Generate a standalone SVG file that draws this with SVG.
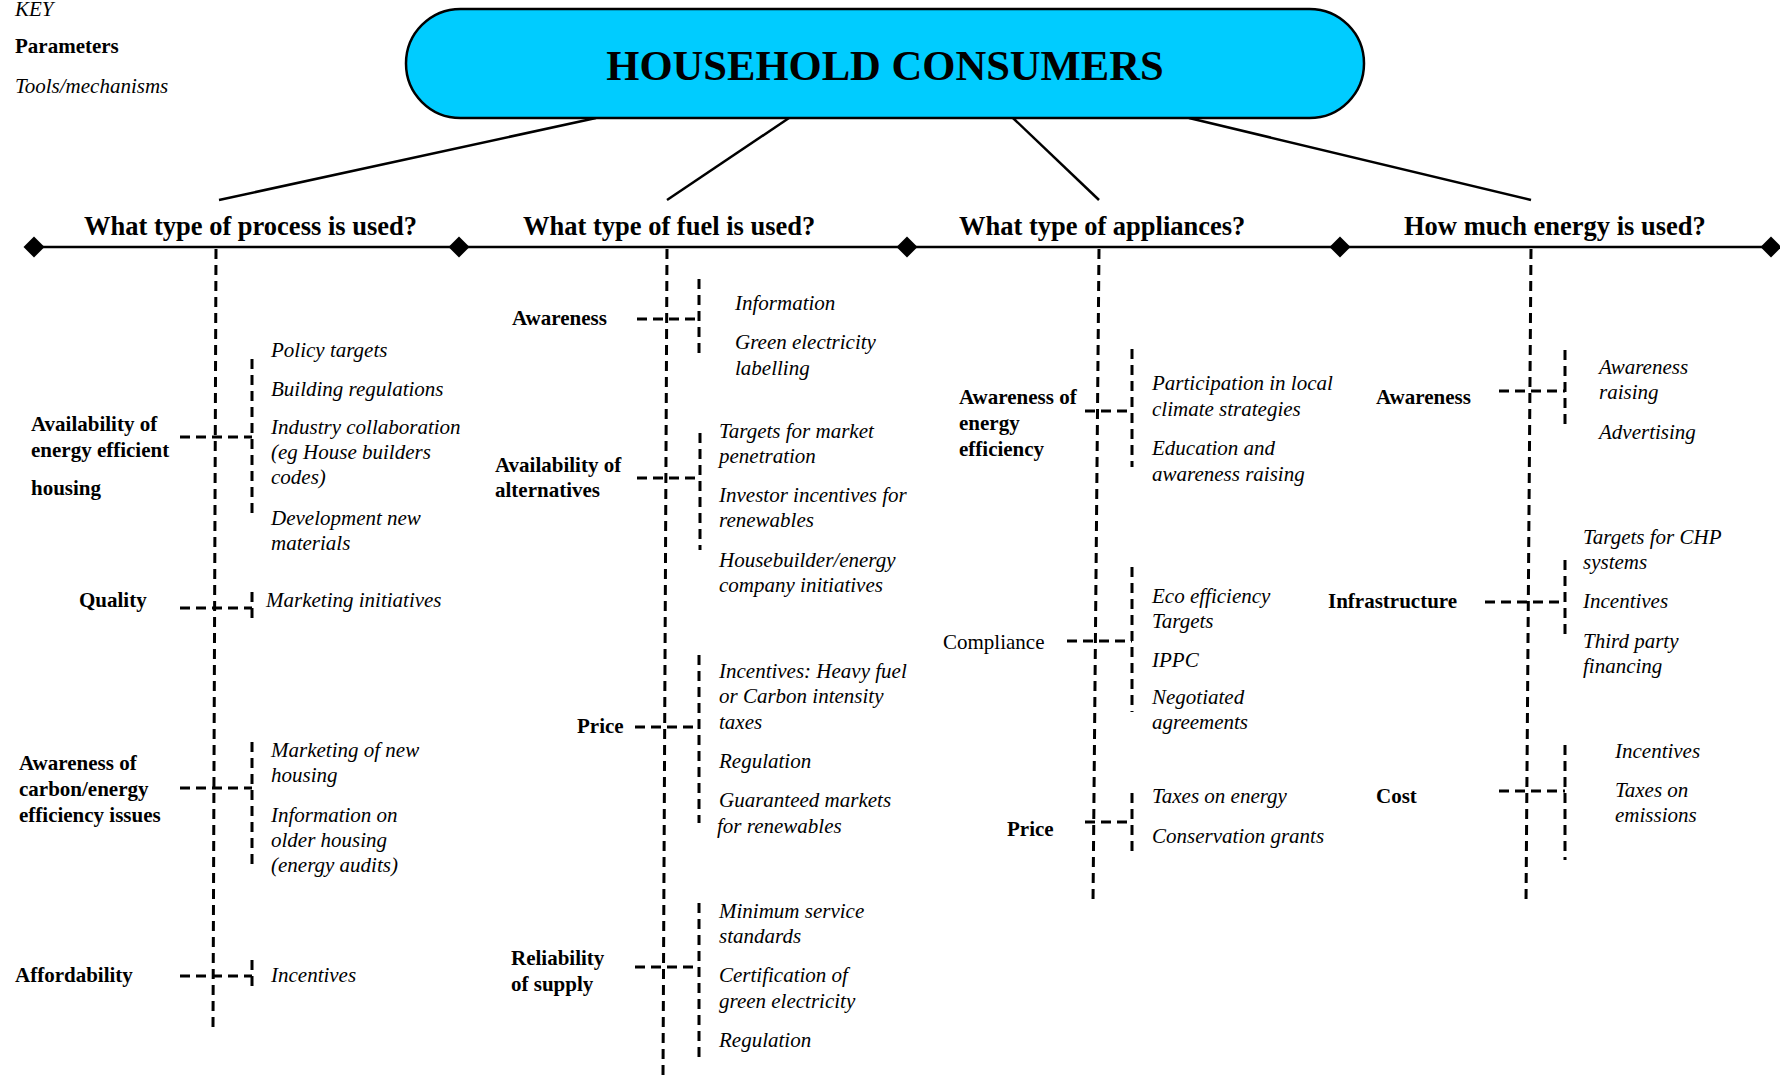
<svg xmlns="http://www.w3.org/2000/svg" width="1780" height="1076" viewBox="0 0 1780 1076">
  <defs>
    <style>
      text { font-family: "Liberation Serif", "Times New Roman", serif; fill: #000; }
      .key { font-size: 21px; font-style: italic; }
      .keyb { font-size: 21px; font-weight: bold; }
      .title { font-size: 42.6px; font-weight: bold; }
      .head { font-size: 26.5px; font-weight: bold; }
      .param { font-size: 21px; font-weight: bold; }
      .plain { font-size: 21px; }
      .tool { font-size: 21px; font-style: italic; }
      .solid { stroke: #000; stroke-width: 2.5; fill: none; }
      .dash { stroke: #000; stroke-width: 3; fill: none; stroke-dasharray: 10 6; }
    </style>
    <path id="diamond" d="M0,-10.5 L10.5,0 L0,10.5 L-10.5,0 Z" fill="#000"/>
  </defs>

  <rect width="1780" height="1076" fill="#fff"/>

  <!-- key -->
  <g id="key">
    <text class="key" x="15" y="16">KEY</text>
    <text class="keyb" x="15" y="53">Parameters</text>
    <text class="key" x="15" y="93">Tools/mechanisms</text>
  </g>

  <!-- connectors -->
  <g id="connectors">
    <!-- title to questions -->
    <line class="solid" x1="596" y1="118" x2="219" y2="200"/>
    <line class="solid" x1="789" y1="118" x2="667" y2="200"/>
    <line class="solid" x1="1013" y1="118" x2="1099" y2="200"/>
    <line class="solid" x1="1189" y1="118" x2="1531" y2="200"/>

    <!-- question bar -->
    <line class="solid" x1="34" y1="247" x2="1771" y2="247"/>
    <use href="#diamond" x="34" y="247"/>
    <use href="#diamond" x="459" y="247"/>
    <use href="#diamond" x="907" y="247"/>
    <use href="#diamond" x="1340" y="247"/>
    <use href="#diamond" x="1771" y="247"/>

    <!-- column spines -->
    <line class="dash" x1="216" y1="249" x2="213" y2="1028"/>
    <line class="dash" x1="667" y1="249" x2="663" y2="1076"/>
    <line class="dash" x1="1099" y1="249" x2="1093" y2="903"/>
    <line class="dash" x1="1531" y1="249" x2="1526" y2="903"/>

    <!-- process column -->
    <line class="dash" x1="180" y1="437" x2="252" y2="437"/>
    <line class="dash" x1="252" y1="359" x2="252" y2="513"/>
    <line class="dash" x1="180" y1="608" x2="252" y2="608"/>
    <line class="dash" x1="252" y1="592" x2="252" y2="620"/>
    <line class="dash" x1="180" y1="788" x2="252" y2="788"/>
    <line class="dash" x1="252" y1="742" x2="252" y2="870"/>
    <line class="dash" x1="180" y1="976" x2="252" y2="976"/>
    <line class="dash" x1="252" y1="960" x2="252" y2="988"/>

    <!-- fuel column -->
    <line class="dash" x1="637" y1="319" x2="699" y2="319"/>
    <line class="dash" x1="699" y1="279" x2="699" y2="359"/>
    <line class="dash" x1="637" y1="478" x2="700" y2="478"/>
    <line class="dash" x1="700" y1="433" x2="700" y2="550"/>
    <line class="dash" x1="635" y1="727" x2="699" y2="727"/>
    <line class="dash" x1="699" y1="655" x2="699" y2="823"/>
    <line class="dash" x1="635" y1="967" x2="699" y2="967"/>
    <line class="dash" x1="699" y1="903" x2="699" y2="1057"/>

    <!-- appliance column -->
    <line class="dash" x1="1085" y1="411" x2="1132" y2="411"/>
    <line class="dash" x1="1132" y1="349" x2="1132" y2="467"/>
    <line class="dash" x1="1067" y1="641" x2="1132" y2="641"/>
    <line class="dash" x1="1132" y1="567" x2="1132" y2="712"/>
    <line class="dash" x1="1085" y1="822" x2="1132" y2="822"/>
    <line class="dash" x1="1132" y1="793" x2="1132" y2="855"/>

    <!-- energy column -->
    <line class="dash" x1="1499" y1="391" x2="1565" y2="391"/>
    <line class="dash" x1="1565" y1="350" x2="1565" y2="428"/>
    <line class="dash" x1="1485" y1="602" x2="1565" y2="602"/>
    <line class="dash" x1="1565" y1="560" x2="1565" y2="640"/>
    <line class="dash" x1="1499" y1="791" x2="1565" y2="791"/>
    <line class="dash" x1="1565" y1="745" x2="1565" y2="860"/>
  </g>

  <!-- root -->
  <g id="household-consumers">
    <rect x="406" y="9" width="958" height="109" rx="54.5" ry="54.5" fill="#00ccff" stroke="#000" stroke-width="2.5"/>
    <text class="title" x="885" y="80" text-anchor="middle">HOUSEHOLD CONSUMERS</text>
  </g>

  <!-- questions -->
  <g id="q-process"><text class="head" x="84" y="235">What type of process is used?</text></g>
  <g id="q-fuel"><text class="head" x="523" y="235">What type of fuel is used?</text></g>
  <g id="q-appliances"><text class="head" x="959" y="235">What type of appliances?</text></g>
  <g id="q-energy"><text class="head" x="1404" y="235">How much energy is used?</text></g>

  <!-- process column -->
  <g id="p-availability-housing">
    <text class="param" x="31" y="431">Availability of</text>
    <text class="param" x="31" y="457">energy efficient</text>
    <text class="param" x="31" y="495">housing</text>
  </g>
  <g id="t-availability-housing">
    <text class="tool" x="271" y="357">Policy targets</text>
    <text class="tool" x="271" y="396">Building regulations</text>
    <text class="tool" x="271" y="434">Industry collaboration</text>
    <text class="tool" x="271" y="459">(eg House builders</text>
    <text class="tool" x="271" y="484">codes)</text>
    <text class="tool" x="271" y="525">Development new</text>
    <text class="tool" x="271" y="550">materials</text>
  </g>
  <g id="p-quality"><text class="param" x="79" y="607">Quality</text></g>
  <g id="t-quality"><text class="tool" x="266" y="607">Marketing initiatives</text></g>
  <g id="p-awareness-carbon">
    <text class="param" x="19" y="770">Awareness of</text>
    <text class="param" x="19" y="796">carbon/energy</text>
    <text class="param" x="19" y="822">efficiency issues</text>
  </g>
  <g id="t-awareness-carbon">
    <text class="tool" x="271" y="757">Marketing of new</text>
    <text class="tool" x="271" y="782">housing</text>
    <text class="tool" x="271" y="822">Information on</text>
    <text class="tool" x="271" y="847">older housing</text>
    <text class="tool" x="271" y="872">(energy audits)</text>
  </g>
  <g id="p-affordability"><text class="param" x="15" y="982">Affordability</text></g>
  <g id="t-affordability"><text class="tool" x="271" y="982">Incentives</text></g>

  <!-- fuel column -->
  <g id="p-fuel-awareness"><text class="param" x="512" y="325">Awareness</text></g>
  <g id="t-fuel-awareness">
    <text class="tool" x="735" y="310">Information</text>
    <text class="tool" x="735" y="349">Green electricity</text>
    <text class="tool" x="735" y="375">labelling</text>
  </g>
  <g id="p-alternatives">
    <text class="param" x="495" y="472">Availability of</text>
    <text class="param" x="495" y="497">alternatives</text>
  </g>
  <g id="t-alternatives">
    <text class="tool" x="719" y="438">Targets for market</text>
    <text class="tool" x="719" y="463">penetration</text>
    <text class="tool" x="719" y="502">Investor incentives for</text>
    <text class="tool" x="719" y="527">renewables</text>
    <text class="tool" x="719" y="567">Housebuilder/energy</text>
    <text class="tool" x="719" y="592">company initiatives</text>
  </g>
  <g id="p-fuel-price"><text class="param" x="577" y="733">Price</text></g>
  <g id="t-fuel-price">
    <text class="tool" x="719" y="678">Incentives: Heavy fuel</text>
    <text class="tool" x="719" y="703">or Carbon intensity</text>
    <text class="tool" x="719" y="729">taxes</text>
    <text class="tool" x="719" y="768">Regulation</text>
    <text class="tool" x="719" y="807">Guaranteed markets</text>
    <text class="tool" x="717" y="833">for renewables</text>
  </g>
  <g id="p-reliability">
    <text class="param" x="511" y="965">Reliability</text>
    <text class="param" x="511" y="991">of supply</text>
  </g>
  <g id="t-reliability">
    <text class="tool" x="719" y="918">Minimum service</text>
    <text class="tool" x="719" y="943">standards</text>
    <text class="tool" x="719" y="982">Certification of</text>
    <text class="tool" x="719" y="1008">green electricity</text>
    <text class="tool" x="719" y="1047">Regulation</text>
  </g>

  <!-- appliance column -->
  <g id="p-awareness-efficiency">
    <text class="param" x="959" y="404">Awareness of</text>
    <text class="param" x="959" y="430">energy</text>
    <text class="param" x="959" y="456">efficiency</text>
  </g>
  <g id="t-awareness-efficiency">
    <text class="tool" x="1152" y="390">Participation in local</text>
    <text class="tool" x="1152" y="416">climate strategies</text>
    <text class="tool" x="1152" y="455">Education and</text>
    <text class="tool" x="1152" y="481">awareness raising</text>
  </g>
  <g id="p-compliance"><text class="plain" x="943" y="649">Compliance</text></g>
  <g id="t-compliance">
    <text class="tool" x="1152" y="603">Eco efficiency</text>
    <text class="tool" x="1152" y="628">Targets</text>
    <text class="tool" x="1152" y="667">IPPC</text>
    <text class="tool" x="1152" y="704">Negotiated</text>
    <text class="tool" x="1152" y="729">agreements</text>
  </g>
  <g id="p-appliance-price"><text class="param" x="1007" y="836">Price</text></g>
  <g id="t-appliance-price">
    <text class="tool" x="1152" y="803">Taxes on energy</text>
    <text class="tool" x="1152" y="843">Conservation grants</text>
  </g>

  <!-- energy column -->
  <g id="p-energy-awareness"><text class="param" x="1376" y="404">Awareness</text></g>
  <g id="t-energy-awareness">
    <text class="tool" x="1599" y="374">Awareness</text>
    <text class="tool" x="1599" y="399">raising</text>
    <text class="tool" x="1599" y="439">Advertising</text>
  </g>
  <g id="p-infrastructure"><text class="param" x="1328" y="608">Infrastructure</text></g>
  <g id="t-infrastructure">
    <text class="tool" x="1583" y="544">Targets for CHP</text>
    <text class="tool" x="1583" y="569">systems</text>
    <text class="tool" x="1583" y="608">Incentives</text>
    <text class="tool" x="1583" y="648">Third party</text>
    <text class="tool" x="1583" y="673">financing</text>
  </g>
  <g id="p-cost"><text class="param" x="1376" y="803">Cost</text></g>
  <g id="t-cost">
    <text class="tool" x="1615" y="758">Incentives</text>
    <text class="tool" x="1615" y="797">Taxes on</text>
    <text class="tool" x="1615" y="822">emissions</text>
  </g>
</svg>
